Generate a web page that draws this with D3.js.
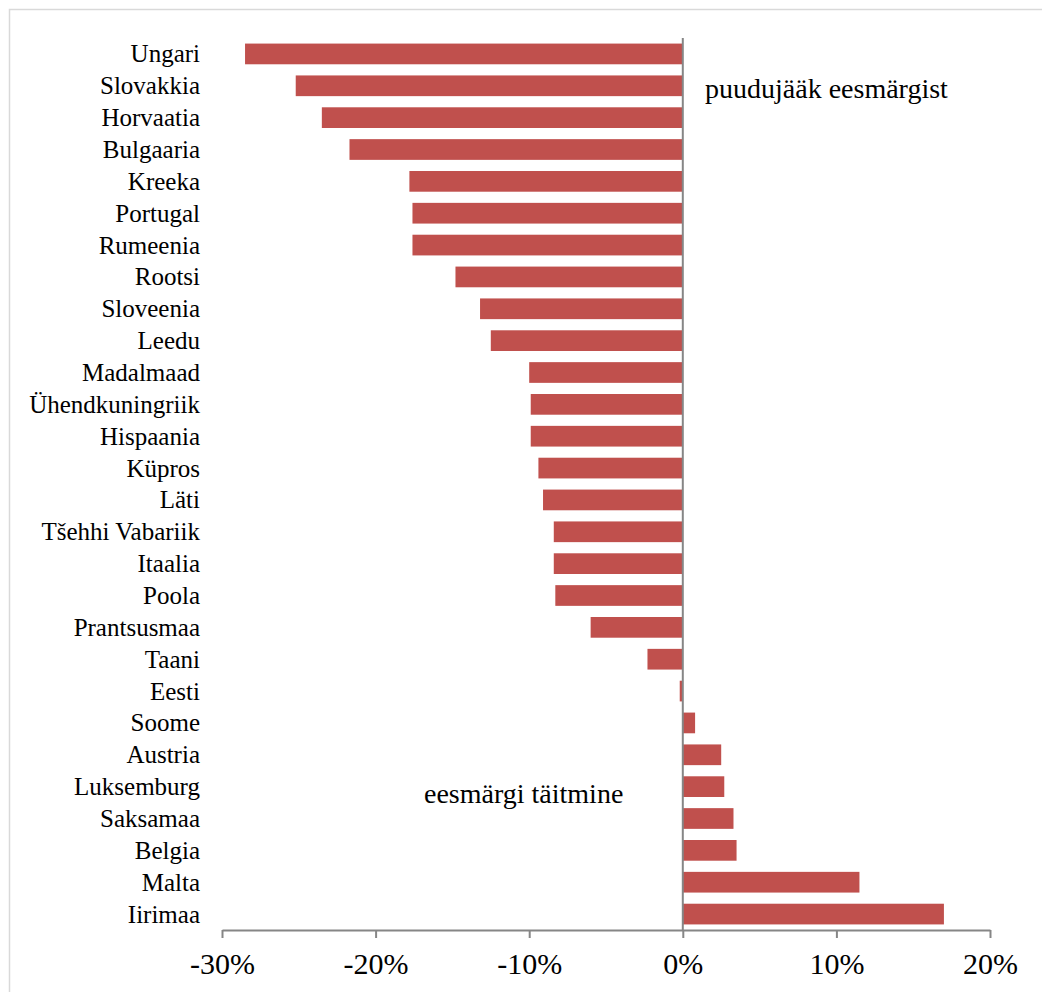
<!DOCTYPE html>
<html>
<head>
<meta charset="utf-8">
<script src="https://cdn.jsdelivr.net/npm/d3@7"></script>
<style>
  html, body { margin: 0; padding: 0; background: #fff; }
  svg { display: block; }
  text { font-family: "Liberation Serif", "Times New Roman", serif; fill: #000; }
</style>
</head>
<body>
<svg id="chart" width="1042" height="992"></svg>
<script>
const categories = ["Ungari","Slovakkia","Horvaatia","Bulgaaria","Kreeka","Portugal","Rumeenia","Rootsi","Sloveenia","Leedu","Madalmaad","Ühendkuningriik","Hispaania","Küpros","Läti","Tšehhi Vabariik","Itaalia","Poola","Prantsusmaa","Taani","Eesti","Soome","Austria","Luksemburg","Saksamaa","Belgia","Malta","Iirimaa"];
const values = [-28.5,-25.2,-23.5,-21.7,-17.8,-17.6,-17.6,-14.8,-13.2,-12.5,-10.0,-9.9,-9.9,-9.4,-9.1,-8.4,-8.4,-8.3,-6.0,-2.3,-0.2,0.8,2.5,2.7,3.3,3.5,11.5,17.0];
const tickValues = [-30,-20,-10,0,10,20];
const annotations = [
  {text: "puudujääk eesmärgist"},
  {text: "eesmärgi täitmine"}
];

const svg = d3.select("#chart");
const barColor = "#C0504D";
const axisColor = "#868686";

// outer border
svg.append("rect").attr("x", 9.5).attr("y", 9.5).attr("width", 1100).attr("height", 1100)
  .attr("fill", "none").attr("stroke", "#d9d9d9").attr("stroke-width", 1.5);

const x = d3.scaleLinear().domain([-30, 20]).range([222, 990]);
const y = d3.scaleBand().domain(categories).range([38, 930]).paddingInner(0.35).paddingOuter(0.175);

const data = categories.map((c, i) => ({c, v: values[i]}));

svg.append("g").selectAll("rect").data(data).join("rect")
  .attr("x", d => Math.min(x(d.v), x(0)))
  .attr("width", d => Math.abs(x(d.v) - x(0)))
  .attr("y", d => y(d.c))
  .attr("height", y.bandwidth())
  .attr("fill", barColor);

// category labels
svg.append("g").selectAll("text").data(categories).join("text")
  .attr("x", 200)
  .attr("y", d => y(d) + y.bandwidth() / 2 + 8.5)
  .attr("text-anchor", "end")
  .style("font-size", "25px")
  .text(d => d);

// zero line
svg.append("line").attr("x1", x(0)).attr("x2", x(0)).attr("y1", 38).attr("y2", 930)
  .attr("stroke", axisColor).attr("stroke-width", 2);

// x axis
const axis = d3.axisBottom(x).tickValues(tickValues).tickSize(8).tickSizeOuter(0)
  .tickFormat(d => d + "%");
const gx = svg.append("g").attr("transform", "translate(0,930)").call(axis);
gx.select(".domain").attr("stroke", axisColor).attr("stroke-width", 2);
gx.selectAll(".tick line").attr("stroke", axisColor).attr("stroke-width", 2);
gx.selectAll(".tick text").attr("y", 0).attr("dy", "44px")
  .style("font-family", '"Liberation Serif", "Times New Roman", serif')
  .style("font-size", "30px").attr("fill", "#000");

// annotations
svg.append("text").attr("x", 705).attr("y", 98).style("font-size", "28px").text(annotations[0].text);
svg.append("text").attr("x", 424).attr("y", 803).style("font-size", "28px").text(annotations[1].text);
</script>
</body>
</html>
